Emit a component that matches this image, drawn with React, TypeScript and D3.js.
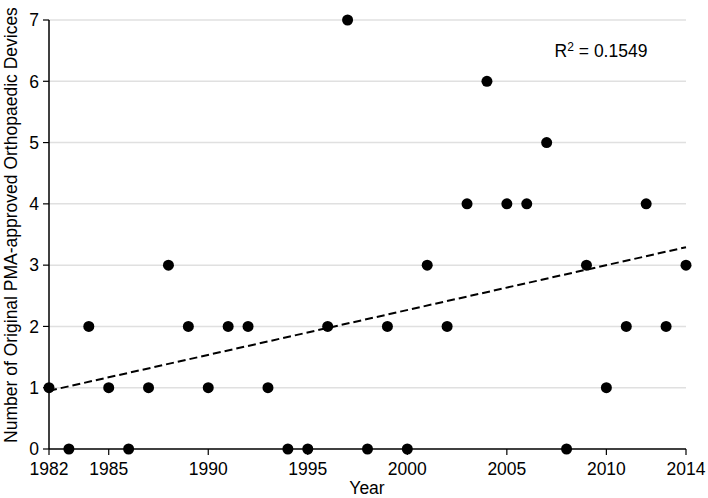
import React from "react";
import * as d3 from "d3";

const years: number[] = [1982,1983,1984,1985,1986,1987,1988,1989,1990,1991,1992,1993,1994,1995,1996,1997,1998,1999,2000,2001,2002,2003,2004,2005,2006,2007,2008,2009,2010,2011,2012,2013,2014];
const counts: number[] = [1,0,2,1,0,1,3,2,1,2,2,1,0,0,2,7,0,2,0,3,2,4,6,4,4,5,0,3,1,2,4,2,3];
const xTicks: number[] = [1982,1985,1990,1995,2000,2005,2010,2014];
const yTicks: number[] = [0,1,2,3,4,5,6,7];
const r2Label = "0.1549";

export default function App() {
  const W = 708, H = 498;
  const m = { left: 49, right: 686, top: 20, bottom: 449 };
  const x = d3.scaleLinear().domain([1982, 2014]).range([m.left, m.right]);
  const y = d3.scaleLinear().domain([0, 7]).range([m.bottom, m.top]);

  const mx = d3.mean(years)!;
  const my = d3.mean(counts)!;
  let sxy = 0, sxx = 0;
  years.forEach((t, i) => { sxy += (t - mx) * (counts[i] - my); sxx += (t - mx) ** 2; });
  const slope = sxy / sxx;
  const icpt = my - slope * mx;
  const line = d3.line<number>().x(d => x(d)).y(d => y(icpt + slope * d));

  const font = "Helvetica, 'Liberation Sans', Arial, sans-serif";
  return (
    <svg width={W} height={H} style={{ position: "absolute", left: 0, top: 0, background: "#fff" }} fontFamily={font}>
      {yTicks.filter(v => v > 0).map(v => (
        <line key={"g" + v} x1={m.left} x2={m.right} y1={y(v)} y2={y(v)} stroke="#e0e0e0" strokeWidth={1.5} />
      ))}
      <line x1={m.left} x2={m.left} y1={m.top} y2={m.bottom} stroke="#000" strokeWidth={1.5} />
      <line x1={m.left} x2={m.right} y1={m.bottom} y2={m.bottom} stroke="#000" strokeWidth={1.5} />
      {yTicks.map(v => (
        <g key={"y" + v}>
          <line x1={m.left - 6} x2={m.left} y1={y(v)} y2={y(v)} stroke="#000" strokeWidth={1.2} />
          <text x={m.left - 10} y={y(v)} dy="0.36em" textAnchor="end" fontSize={17.5}>{v}</text>
        </g>
      ))}
      {xTicks.map(v => (
        <g key={"x" + v}>
          <line x1={x(v)} x2={x(v)} y1={m.bottom} y2={m.bottom + 6} stroke="#000" strokeWidth={1.2} />
          <text x={x(v)} y={m.bottom + 26} textAnchor="middle" fontSize={17.5}>{v}</text>
        </g>
      ))}
      <path d={line([1982, 2014]) || ""} fill="none" stroke="#000" strokeWidth={2} strokeDasharray="8,4" />
      {years.map((t, i) => (
        <circle key={t} cx={x(t)} cy={y(counts[i])} r={5.5} fill="#000" />
      ))}
      <text x={367} y={494} textAnchor="middle" fontSize={17.5}>Year</text>
      <text transform={`translate(17, 225) rotate(-90)`} textAnchor="middle" fontSize={17.5}>Number of Original PMA-approved Orthopaedic Devices</text>
      <text x={601} y={57} textAnchor="middle" fontSize={17.5}>R<tspan dy={-6} fontSize={12}>2</tspan><tspan dy={6}> = {r2Label}</tspan></text>
    </svg>
  );
}
